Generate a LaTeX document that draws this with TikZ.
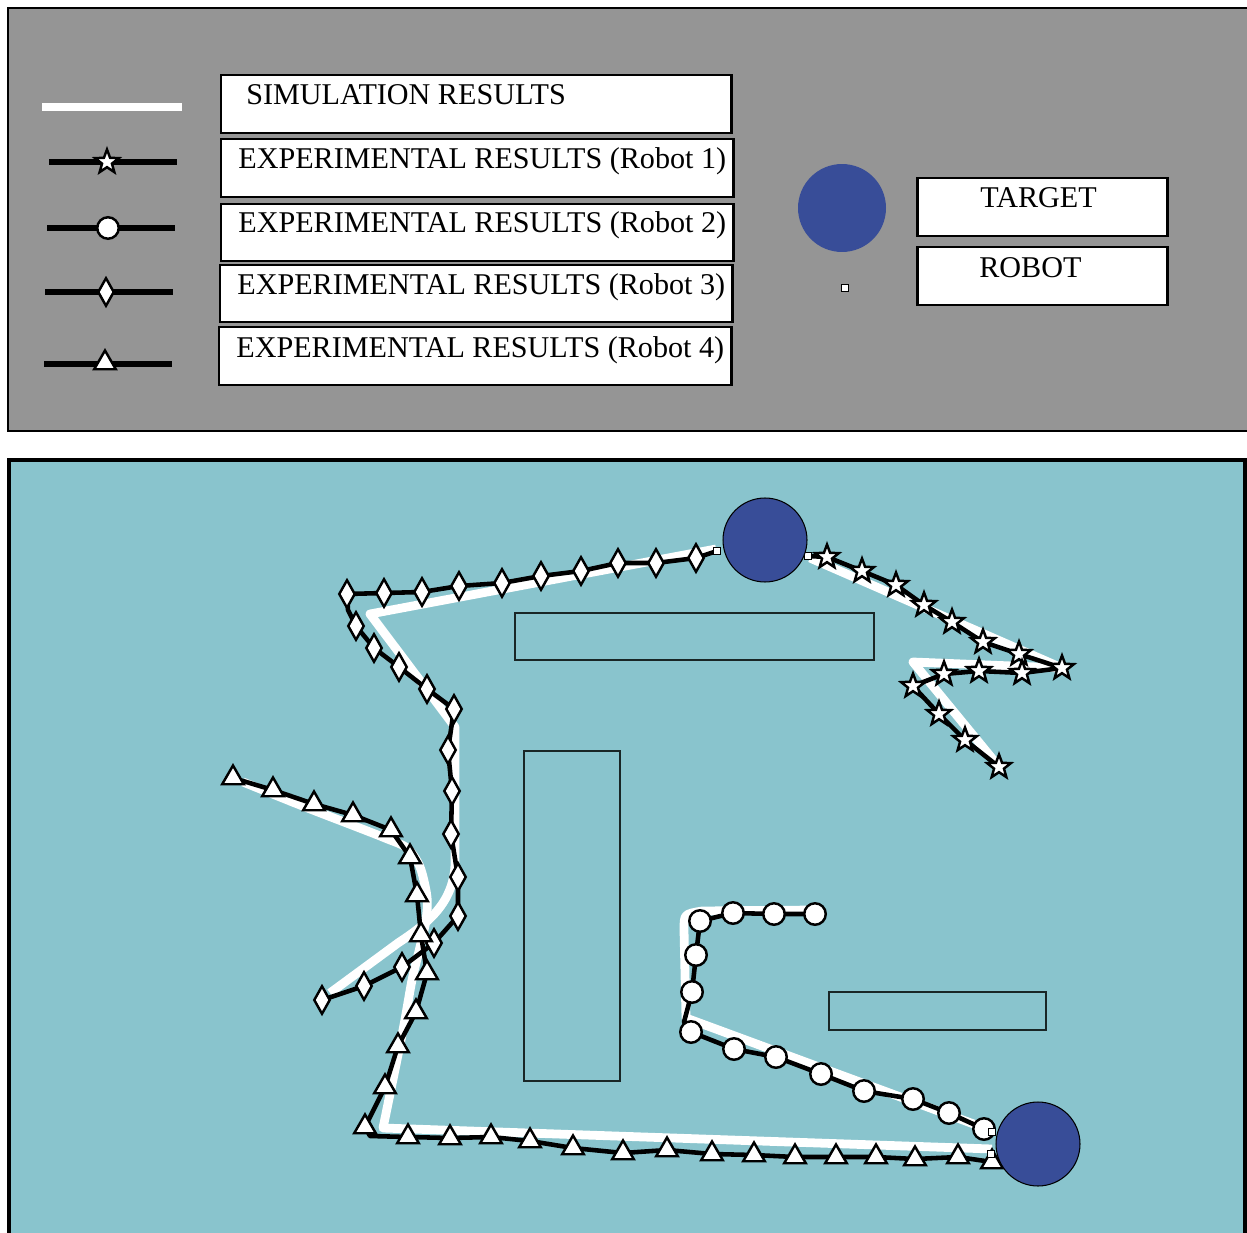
\documentclass[tikz,border=0pt]{standalone}
\usepackage{fontspec}
\setmainfont{Liberation Serif}
\usetikzlibrary{shapes.geometric}
\definecolor{panelgray}{RGB}{149,149,149}
\definecolor{fieldteal}{RGB}{137,196,205}
\definecolor{targetblue}{RGB}{56,77,152}
\definecolor{obsline}{RGB}{25,38,38}
\begin{document}
\begin{tikzpicture}[x=0.02cm,y=-0.02cm,
  lbl/.style={anchor=base west, inner sep=0pt, font=\fontsize{17.15}{20}\selectfont},
  lgbox/.style={draw=black, line width=1.7pt, fill=white},
  simline/.style={white, line width=5pt, line join=round},
  expline/.style={black, line width=2.6pt, line join=round},
  lgwhite/.style={white, line width=4.5pt},
  lgblack/.style={black, line width=3.4pt},
  mk/.style={draw=black, fill=white, line width=1.4pt, inner sep=0pt},
  starmk/.style={mk, star, star points=5, star point ratio=2.4, minimum size=0.5cm},
  circmk/.style={mk, circle, minimum size=0.43cm},
  diammk/.style={mk, diamond, minimum width=0.33cm, minimum height=0.57cm},
  trimk/.style={mk, regular polygon, regular polygon sides=3, minimum size=0.5cm},
  startsq/.style={rectangle, minimum size=0.14cm, inner sep=0pt, draw=black, fill=white, line width=0.6pt},
  targetc/.style={circle, fill=targetblue, draw=black, line width=0.6pt, minimum size=1.68cm, inner sep=0pt},
  obstacle/.style={draw=obsline, line width=1.4pt}
]
\useasboundingbox (0,0) rectangle (1247,1233);
\clip (0,0) rectangle (1247,1233);

% ---------- legend panel ----------
\draw[line width=1.5pt, fill=panelgray] (8,8) rectangle (1248,431);

\draw[lgwhite] (42,107) -- (182,107);
\draw[lgblack] (49,162) -- (177,162);
\node[starmk] (lgs) at (107,162) {};
\draw[lgblack] (47,228) -- (175,228);
\node[circmk] (lgc) at (108,228) {};
\draw[lgblack] (45,292) -- (173,292);
\node[diammk] (lgd) at (106,292) {};
\draw[lgblack] (44,364) -- (172,364);
\node[trimk] (lgt) at (105,363) {};

\draw[lgbox] (221,75) rectangle (731,133);
\draw[lgbox] (221,139) rectangle (733,197);
\draw[lgbox] (221,204) rectangle (733,261);
\draw[lgbox] (220,265) rectangle (732,322);
\draw[lgbox] (219,327) rectangle (731,385);
\node[lbl] (tsim) at (246,105) {SIMULATION RESULTS};
\node[lbl] (texp1) at (238,169) {EXPERIMENTAL RESULTS (Robot 1)};
\node[lbl] (texp2) at (238,233) {EXPERIMENTAL RESULTS (Robot 2)};
\node[lbl] (texp3) at (237,295) {EXPERIMENTAL RESULTS (Robot 3)};
\node[lbl] (texp4) at (236,357) {EXPERIMENTAL RESULTS (Robot 4)};

\node[circle, fill=targetblue, minimum size=1.76cm, inner sep=0pt] (lgtarget) at (842,208) {};
\node[startsq] (lgrobot) at (845,288) {};
\draw[lgbox] (917,178) rectangle (1167,236);
\draw[lgbox] (917,247) rectangle (1167,305);
\node[lbl] (ttarget) at (980,208) {TARGET};
\node[lbl] (trobot) at (979,277) {ROBOT};

% ---------- field panel ----------
\draw[line width=2.3pt, fill=fieldteal] (9,460) rectangle (1245.5,1250);
\draw[obstacle] (515,613) rectangle (874,660);
\draw[obstacle] (524,751) rectangle (620,1081);
\draw[obstacle] (829,992) rectangle (1046,1030);

% simulation paths (white)
\draw[simline] (810,558) -- (1062,668) -- (913,662) -- (1000,768);
\draw[simline] (990,1130) -- (686,1018) -- (684,930) .. controls (684,914) .. (702,911) -- (815,910);
\draw[simline] (716,549) -- (370,614) -- (455,727) -- (455,865) .. controls (453,905) and (425,925) .. (398,943) -- (330,993);
\draw[simline] plot[smooth, tension=0.5] coordinates {(243,782) (300,805) (357,827) (385,838) (407,848) (420,867) (427,897) (426,920) (420,947) (412,980) (403,1030) (383,1128)} -- (992,1149);

% robot 1 (stars)
\node[startsq] (r1) at (808,556) {};
\foreach \x/\y [count=\i] in {827/557,862/571,896/585,924/605,952/622,983/642,1019/654,1062/668,1022/673,979/671,944/674,913/686,939/714,965/740,999/767}
  \coordinate (a\i) at (\x,\y);
\draw[expline] (r1.center) -- (a1) -- (a2) -- (a3) -- (a4) -- (a5) -- (a6) -- (a7) -- (a8) -- (a9) -- (a10) -- (a11) -- (a12) -- (a13) -- (a14) -- (a15);
\foreach \i in {1,...,15} \node[starmk] (sa\i) at (a\i) {};
\node[startsq] (r1b) at (r1) {};

% robot 2 (circles)
\node[startsq] (r2) at (992,1132) {};
\foreach \x/\y [count=\i] in {984/1129,949/1113,913/1099,864/1091,821/1074,776/1057,734/1049,691/1032,692/992,696/955,700/921,733/913,774/914,815/914}
  \coordinate (b\i) at (\x,\y);
\coordinate (bk) at (684,1022);
\draw[expline] (r2.center) -- (b1) -- (b2) -- (b3) -- (b4) -- (b5) -- (b6) -- (b7) -- (b8) -- (bk) -- (b9) -- (b10) -- (b11) -- (b12) -- (b13) -- (b14);
\foreach \i in {1,...,14} \node[circmk] (cb\i) at (b\i) {};
\node[startsq] (r2b) at (r2) {};

% robot 3 (diamonds)
\node[startsq] (r3) at (717,551) {};
\foreach \x/\y [count=\i] in {696/558,656/563,618/563,581/571,541/576,502/583,459/586,422/592,384/593,347/594,356/626,374/648,399/667,427/689,454/709,448/750,452/791,451/834,458/877,458/916,434/943,402/967,364/986,322/1000}
  \coordinate (d\i) at (\x,\y);
\coordinate (dk) at (348,610);
\draw[expline] (r3.center) -- (d1) -- (d2) -- (d3) -- (d4) -- (d5) -- (d6) -- (d7) -- (d8) -- (d9) -- (d10) -- (dk) -- (d11) -- (d12) -- (d13) -- (d14) -- (d15) -- (d16) -- (d17) -- (d18) -- (d19) -- (d20) -- (d21) -- (d22) -- (d23) -- (d24);
\foreach \i in {1,...,24} \node[diammk] (dd\i) at (d\i) {};
\node[startsq] (r3b) at (r3) {};

% robot 4 (triangles)
\node[startsq] (r4) at (991,1154) {};
\foreach \x/\y [count=\i] in {992/1162,958/1157,915/1159,876/1157,836/1157,795/1157,754/1155,712/1154,667/1150,623/1153,573/1148,530/1141,491/1137,450/1138,408/1137,365/1127,385/1087,398/1046,416/1012,427/973,421/935,417/895,410/857,391/830,353/815,314/804,273/790,233/778}
  \coordinate (t\i) at (\x,\y);
\coordinate (tk) at (370,1136);
\draw[expline] (r4.center) -- (t1) -- (t2) -- (t3) -- (t4) -- (t5) -- (t6) -- (t7) -- (t8) -- (t9) -- (t10) -- (t11) -- (t12) -- (t13) -- (t14) -- (t15) -- (tk) -- (t16) -- (t17) -- (t18) -- (t19) -- (t20) -- (t21) -- (t22) -- (t23) -- (t24) -- (t25) -- (t26) -- (t27) -- (t28);
\foreach \i in {1,...,28} \node[trimk] (tt\i) at (t\i) {};
\node[startsq] (r4b) at (r4) {};

% targets
\node[targetc] (tg1) at (765,540) {};
\node[targetc] (tg2) at (1038,1144) {};
\end{tikzpicture}
\end{document}
